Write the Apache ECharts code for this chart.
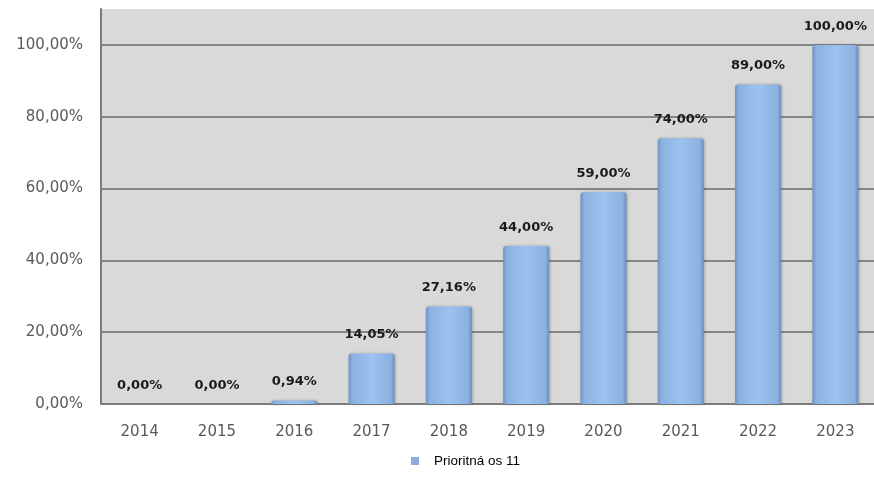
<!DOCTYPE html>
<html><head><meta charset="utf-8">
<script src="https://cdn.jsdelivr.net/npm/echarts@6/dist/echarts.min.js"></script>
<style>html,body{margin:0;padding:0;background:#fff}#c{width:874px;height:482px}</style>
</head><body><div id="c"></div>
<script>
const categories = ['2014','2015','2016','2017','2018','2019','2020','2021','2022','2023'];
const values = [0, 0, 0.94, 14.05, 27.16, 44, 59, 74, 89, 100];
const seriesName = 'Prioritná os 11';
const yTicks = [0, 20, 40, 60, 80, 100];

const fmt = v => v.toFixed(2).replace('.', ',') + '%';
const chart = echarts.init(document.getElementById('c'));
const barColor = new echarts.graphic.LinearGradient(0, 0, 1, 0, [
  {offset: 0, color: '#6f92c2'},
  {offset: 0.08, color: '#8bb1e0'},
  {offset: 0.5, color: '#9cc2f0'},
  {offset: 0.92, color: '#8bb1e0'},
  {offset: 1, color: '#6a8cbb'}
]);
chart.setOption({
  animation: false,
  textStyle: {fontFamily: 'DejaVu Sans, sans-serif'},
  grid: {left: 101, right: -5, top: 9, bottom: 78, show: true, backgroundColor: '#d9d9d9', borderWidth: 0},
  legend: {
    bottom: 9, left: 406, itemWidth: 8, itemHeight: 8,
    textStyle: {fontSize: 13.5, color: '#000', fontFamily: 'Liberation Sans, Arial, sans-serif', padding: [0, 0, 0, 10]},
    data: [{name: seriesName, icon: 'rect', itemStyle: {color: '#8aaedb'}}]
  },
  xAxis: {
    type: 'category', data: categories,
    axisLine: {lineStyle: {color: '#7a7a7a', width: 1.5}},
    axisTick: {show: false},
    axisLabel: {fontSize: 15, color: '#595959', margin: 21}
  },
  yAxis: {
    type: 'value', min: 0, max: 110, interval: 20,
    axisLine: {show: true, lineStyle: {color: '#7a7a7a', width: 2}},
    axisTick: {show: false},
    splitLine: {showMaxLine: false, lineStyle: {color: '#858585', width: 2}},
    axisLabel: {fontSize: 15, color: '#595959', margin: 18, showMaxLabel: false,
      formatter: v => yTicks.includes(v) ? fmt(v) : ''}
  },
  series: [{
    name: seriesName, type: 'bar', data: values, barWidth: 46,
    itemStyle: {color: barColor, borderRadius: [3, 3, 0, 0], shadowColor: 'rgba(0,0,0,0.25)', shadowBlur: 3, shadowOffsetX: 1},
    label: {show: true, position: 'top', distance: 12, fontSize: 13, color: '#1a1a1a',
      fontWeight: 'bold', formatter: p => fmt(p.value)}
  }]
});
</script></body></html>
